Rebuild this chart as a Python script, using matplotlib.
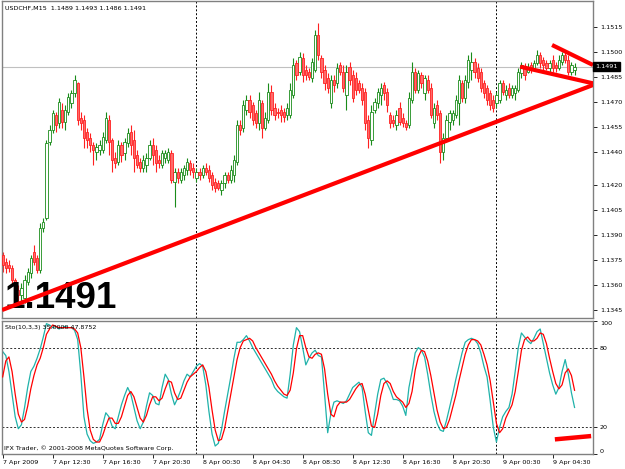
import matplotlib
matplotlib.use('Agg')
import matplotlib.pyplot as plt
import matplotlib.transforms as mtransforms
import numpy as np

symbol = 'USDCHF,M15'

# 15-minute bars, first bar 7 Apr 2009 08:30
opens = [
    1.1378, 1.1374, 1.1372, 1.1370, 1.1363, 1.1357, 1.1354, 1.1352, 1.1362, 1.1367,
    1.1380, 1.1376, 1.1369, 1.1394, 1.1400, 1.1446, 1.1453, 1.1462, 1.1457, 1.1465,
    1.1458, 1.1464, 1.1469, 1.1475, 1.1481, 1.1460, 1.1459, 1.1452, 1.1448, 1.1444,
    1.1440, 1.1441, 1.1441, 1.1447, 1.1459, 1.1447, 1.1436, 1.1434, 1.1444, 1.1439,
    1.1445, 1.1452, 1.1447, 1.1438, 1.1434, 1.1430, 1.1432, 1.1436, 1.1444, 1.1441,
    1.1435, 1.1432, 1.1436, 1.1435, 1.1439, 1.1422, 1.1428, 1.1423, 1.1426, 1.1429,
    1.1433, 1.1430, 1.1424, 1.1428, 1.1426, 1.1430, 1.1429, 1.1426, 1.1422, 1.1421,
    1.1417, 1.1421, 1.1426, 1.1423, 1.1426, 1.1434, 1.1456, 1.1454, 1.1465, 1.1471,
    1.1468, 1.1463, 1.1457, 1.1469, 1.1454, 1.1459, 1.1476, 1.1466, 1.1464, 1.1465,
    1.1464, 1.1462, 1.1462, 1.1474, 1.1493, 1.1488, 1.1496, 1.1489, 1.1488, 1.1484,
    1.1489, 1.1510, 1.1496, 1.1489, 1.1484, 1.1469, 1.1483, 1.1481, 1.1492, 1.1488,
    1.1474, 1.1491, 1.1486, 1.1484, 1.1481, 1.1478, 1.1476, 1.1459, 1.1447, 1.1465,
    1.1469, 1.1474, 1.1480, 1.1476, 1.1462, 1.1459, 1.1456, 1.1466, 1.1460, 1.1457,
    1.1456, 1.1471, 1.1488, 1.1477, 1.1486, 1.1475, 1.1483, 1.1478, 1.1457, 1.1468,
    1.1463, 1.1440, 1.1448, 1.1458, 1.1459, 1.1462, 1.1469, 1.1481, 1.1472, 1.1482,
    1.1489, 1.1494, 1.1490, 1.1488, 1.1481, 1.1478, 1.1475, 1.1471, 1.1469, 1.1471,
    1.1481, 1.1474, 1.1478, 1.1474, 1.1475, 1.1477, 1.1487, 1.1490, 1.1488, 1.1492,
    1.1490, 1.1493, 1.1498, 1.1495, 1.1493, 1.1490, 1.1495, 1.1492, 1.1490, 1.1494,
    1.1498, 1.1495, 1.1488, 1.1489]
highs = [
    1.1380, 1.1376, 1.1375, 1.1372, 1.1364, 1.1360, 1.1361, 1.1366, 1.1370, 1.1378,
    1.1384, 1.1378, 1.1397, 1.1400, 1.1447, 1.1456, 1.1465, 1.1464, 1.1472, 1.1469,
    1.1468, 1.1475, 1.1477, 1.1486, 1.1482, 1.1464, 1.1462, 1.1454, 1.1451, 1.1446,
    1.1445, 1.1447, 1.1452, 1.1464, 1.1462, 1.1448, 1.1440, 1.1447, 1.1446, 1.1448,
    1.1454, 1.1456, 1.1453, 1.1441, 1.1436, 1.1438, 1.1439, 1.1447, 1.1448, 1.1444,
    1.1438, 1.1441, 1.1441, 1.1442, 1.1441, 1.1430, 1.1430, 1.1430, 1.1432, 1.1436,
    1.1435, 1.1433, 1.1430, 1.1430, 1.1432, 1.1433, 1.1432, 1.1428, 1.1424, 1.1423,
    1.1423, 1.1428, 1.1428, 1.1432, 1.1438, 1.1459, 1.1459, 1.1471, 1.1474, 1.1474,
    1.1470, 1.1465, 1.1476, 1.1471, 1.1464, 1.1481, 1.1480, 1.1469, 1.1466, 1.1468,
    1.1466, 1.1469, 1.1481, 1.1496, 1.1495, 1.1500, 1.1499, 1.1492, 1.1490, 1.1496,
    1.1513, 1.1517, 1.1498, 1.1492, 1.1487, 1.1486, 1.1486, 1.1493, 1.1494, 1.1492,
    1.1492, 1.1494, 1.1489, 1.1488, 1.1483, 1.1481, 1.1478, 1.1462, 1.1468, 1.1472,
    1.1478, 1.1481, 1.1482, 1.1478, 1.1464, 1.1462, 1.1465, 1.1470, 1.1463, 1.1459,
    1.1476, 1.1494, 1.1490, 1.1489, 1.1488, 1.1486, 1.1486, 1.1481, 1.1469, 1.1471,
    1.1465, 1.1451, 1.1462, 1.1465, 1.1465, 1.1474, 1.1486, 1.1483, 1.1486, 1.1498,
    1.1500, 1.1496, 1.1493, 1.1490, 1.1483, 1.1480, 1.1477, 1.1474, 1.1476, 1.1483,
    1.1483, 1.1480, 1.1481, 1.1480, 1.1480, 1.1490, 1.1494, 1.1493, 1.1493, 1.1494,
    1.1495, 1.1501, 1.1500, 1.1497, 1.1495, 1.1495, 1.1498, 1.1494, 1.1498, 1.1500,
    1.1501, 1.1498, 1.1494, 1.1493]
lows = [
    1.1368, 1.1367, 1.1368, 1.1360, 1.1351, 1.1348, 1.1350, 1.1349, 1.1360, 1.1364,
    1.1372, 1.1367, 1.1367, 1.1392, 1.1399, 1.1444, 1.1451, 1.1452, 1.1454, 1.1454,
    1.1453, 1.1462, 1.1466, 1.1473, 1.1456, 1.1453, 1.1442, 1.1442, 1.1440, 1.1432,
    1.1435, 1.1438, 1.1439, 1.1445, 1.1438, 1.1428, 1.1430, 1.1432, 1.1434, 1.1435,
    1.1443, 1.1438, 1.1428, 1.1430, 1.1428, 1.1428, 1.1428, 1.1435, 1.1432, 1.1428,
    1.1430, 1.1430, 1.1433, 1.1433, 1.1421, 1.1407, 1.1421, 1.1421, 1.1423, 1.1426,
    1.1426, 1.1424, 1.1422, 1.1423, 1.1424, 1.1426, 1.1422, 1.1417, 1.1416, 1.1417,
    1.1414, 1.1418, 1.1421, 1.1421, 1.1422, 1.1432, 1.1450, 1.1452, 1.1462, 1.1460,
    1.1456, 1.1454, 1.1453, 1.1448, 1.1453, 1.1457, 1.1462, 1.1459, 1.1460, 1.1458,
    1.1458, 1.1459, 1.1460, 1.1472, 1.1483, 1.1486, 1.1482, 1.1483, 1.1483, 1.1482,
    1.1488, 1.1495, 1.1484, 1.1477, 1.1475, 1.1466, 1.1476, 1.1478, 1.1486, 1.1476,
    1.1465, 1.1480, 1.1470, 1.1474, 1.1475, 1.1468, 1.1453, 1.1442, 1.1444, 1.1463,
    1.1466, 1.1468, 1.1471, 1.1464, 1.1454, 1.1455, 1.1453, 1.1456, 1.1455, 1.1453,
    1.1454, 1.1469, 1.1475, 1.1475, 1.1478, 1.1471, 1.1475, 1.1460, 1.1454, 1.1459,
    1.1433, 1.1435, 1.1446, 1.1453, 1.1456, 1.1460, 1.1456, 1.1470, 1.1469, 1.1478,
    1.1483, 1.1484, 1.1482, 1.1476, 1.1472, 1.1468, 1.1465, 1.1464, 1.1466, 1.1469,
    1.1474, 1.1471, 1.1472, 1.1472, 1.1471, 1.1476, 1.1484, 1.1483, 1.1487, 1.1487,
    1.1489, 1.1492, 1.1490, 1.1489, 1.1489, 1.1488, 1.1488, 1.1488, 1.1489, 1.1492,
    1.1493, 1.1486, 1.1486, 1.1486]
closes = [
    1.1372, 1.1370, 1.1370, 1.1363, 1.1356, 1.1354, 1.1358, 1.1363, 1.1368, 1.1376,
    1.1374, 1.1369, 1.1394, 1.1398, 1.1445, 1.1453, 1.1463, 1.1456, 1.1470, 1.1458,
    1.1465, 1.1473, 1.1475, 1.1483, 1.1459, 1.1457, 1.1448, 1.1447, 1.1444, 1.1441,
    1.1443, 1.1444, 1.1449, 1.1460, 1.1446, 1.1435, 1.1433, 1.1444, 1.1438, 1.1446,
    1.1451, 1.1444, 1.1436, 1.1432, 1.1430, 1.1435, 1.1436, 1.1444, 1.1438, 1.1433,
    1.1433, 1.1439, 1.1439, 1.1440, 1.1423, 1.1428, 1.1424, 1.1428, 1.1430, 1.1434,
    1.1429, 1.1428, 1.1428, 1.1426, 1.1430, 1.1428, 1.1424, 1.1420, 1.1418, 1.1418,
    1.1421, 1.1426, 1.1423, 1.1429, 1.1435, 1.1456, 1.1453, 1.1468, 1.1471, 1.1464,
    1.1459, 1.1457, 1.1471, 1.1454, 1.1460, 1.1476, 1.1465, 1.1462, 1.1463, 1.1462,
    1.1461, 1.1466, 1.1477, 1.1492, 1.1486, 1.1497, 1.1486, 1.1486, 1.1485, 1.1494,
    1.1510, 1.1498, 1.1488, 1.1481, 1.1478, 1.1483, 1.1480, 1.1490, 1.1488, 1.1478,
    1.1488, 1.1483, 1.1472, 1.1477, 1.1477, 1.1471, 1.1457, 1.1448, 1.1464, 1.1470,
    1.1476, 1.1478, 1.1475, 1.1468, 1.1457, 1.1457, 1.1462, 1.1458, 1.1457, 1.1455,
    1.1472, 1.1488, 1.1477, 1.1487, 1.1481, 1.1484, 1.1477, 1.1462, 1.1466, 1.1462,
    1.1440, 1.1448, 1.1459, 1.1463, 1.1463, 1.1471, 1.1483, 1.1472, 1.1483, 1.1495,
    1.1494, 1.1488, 1.1484, 1.1478, 1.1475, 1.1471, 1.1468, 1.1466, 1.1474, 1.1481,
    1.1476, 1.1477, 1.1474, 1.1478, 1.1478, 1.1488, 1.1492, 1.1486, 1.1491, 1.1489,
    1.1493, 1.1498, 1.1493, 1.1492, 1.1490, 1.1493, 1.1490, 1.1490, 1.1495, 1.1498,
    1.1495, 1.1488, 1.1492, 1.1491]

# Stochastic(10,3,3): main (%K) and signal (%D)
k_main = [
    77, 74, 62, 45, 28, 19, 22, 35, 50, 62,
    66, 72, 79, 88, 98, 97, 95, 96, 94, 95,
    96, 95, 95, 93, 86, 60, 28, 15, 10, 8,
    9, 11, 22, 31, 28, 21, 19, 28, 37, 44,
    50, 45, 35, 25, 19, 24, 36, 46, 44, 38,
    37, 50, 60, 56, 45, 37, 42, 48, 55, 60,
    58, 62, 66, 68, 66, 52, 32, 15, 6, 8,
    18, 32, 45, 58, 72, 84, 84, 86, 89, 85,
    80, 76, 72, 68, 64, 60, 56, 50, 47, 45,
    43, 42, 60, 82, 95, 92, 80, 67, 72, 76,
    78, 74, 73, 45, 16, 30, 39, 40, 39, 38,
    40, 45, 50, 52, 54, 50, 32, 16, 14, 30,
    45, 56, 57, 53, 48, 41, 41, 40, 36, 29,
    50, 62, 76, 80, 78, 73, 60, 45, 32, 23,
    18, 17, 25, 35, 45, 56, 66, 76, 84, 86,
    87, 86, 83, 76, 66, 58, 40, 20, 9, 20,
    28, 32, 35, 45, 62, 80, 91, 88, 85, 83,
    87, 92, 94, 83, 72, 61, 52, 45, 50, 62,
    71, 60, 46, 35.0]
d_signal = [
    58, 70, 73, 62, 45, 30, 24, 26, 36, 49,
    59, 67, 72, 80, 90, 94, 97, 96, 95, 95,
    95, 95, 95, 94, 91, 80, 58, 34, 18, 11,
    9, 9, 14, 21, 27, 27, 23, 23, 28, 36,
    44, 47, 43, 35, 27, 24, 29, 37, 43, 43,
    40, 42, 49, 55, 54, 46, 41, 42, 48, 54,
    58, 60, 62, 65, 67, 62, 50, 33, 18, 10,
    11, 19, 32, 45, 58, 71, 80, 85, 86, 87,
    85, 80, 76, 72, 68, 64, 60, 55, 51, 48,
    45, 44, 48, 61, 79, 89, 89, 80, 73, 72,
    75, 76, 75, 64, 45, 30, 28, 36, 39, 39,
    39, 41, 45, 49, 52, 53, 45, 33, 21, 20,
    30, 44, 53, 55, 53, 47, 43, 41, 39, 35,
    38, 47, 63, 73, 78, 77, 70, 59, 46, 33,
    24, 19, 20, 26, 35, 44, 55, 65, 75, 82,
    86, 86, 85, 82, 75, 67, 55, 39, 23, 16,
    19, 27, 32, 37, 47, 62, 78, 86, 88, 85,
    85, 87, 91, 90, 83, 72, 62, 53, 49, 52,
    61, 64, 59, 47.8752]

price_ticks = [1.1515, 1.1500, 1.1485, 1.1470, 1.1455, 1.1440,
               1.1420, 1.1405, 1.1390, 1.1375, 1.1360, 1.1345]
stoch_ticks = [0, 20, 80, 100]
stoch_levels = [20, 80]
time_bars = [0, 16, 32, 48, 64, 80, 96, 112, 128, 144, 160, 176]
time_labels = ['7 Apr 2009', '7 Apr 12:30', '7 Apr 16:30', '7 Apr 20:30',
               '8 Apr 00:30', '8 Apr 04:30', '8 Apr 08:30', '8 Apr 12:30',
               '8 Apr 16:30', '8 Apr 20:30', '9 Apr 00:30', '9 Apr 04:30']
day_breaks = [62, 158]  # 8 Apr 00:00, 9 Apr 00:00

# hand-drawn trend lines: (bar, price) pairs
trend_lines = [((-0.2, 1.1345), (188.9, 1.1480)),
               ((165.6, 1.1491), (188.9, 1.1481)),
               ((175.8, 1.1504), (188.9, 1.1492))]
stoch_line = ((176.7, 11.0), (188.3, 13.5))

W, H = 625, 469
fs = 4.6
bull = '#1a8c1a'
bear = '#ff2020'
frame = '#808080'


def box(x0, y0, x1, y1):
    return [x0 / W, 1 - y1 / H, (x1 - x0) / W, (y1 - y0) / H]


fig = plt.figure(figsize=(6.25, 4.69), dpi=100)
ax = fig.add_axes(box(2, 1, 593, 318))
ax2 = fig.add_axes(box(2, 321, 593, 454))

o = np.array(opens)
h = np.array(highs)
l = np.array(lows)
c = np.array(closes)
x = np.arange(len(o))
up = c >= o

# main price panel
ax.axhline(c[-1], color='#c0c0c0', lw=0.8, zorder=0)
for b in day_breaks:
    ax.axvline(b, color='black', ls=(0, (2, 2)), lw=0.7, zorder=0)

ax.vlines(x[up], l[up], h[up], color=bull, lw=0.8, zorder=2)
ax.vlines(x[~up], l[~up], h[~up], color=bear, lw=0.8, zorder=2)
body_lo = np.minimum(o, c)
body_h = np.maximum(np.abs(c - o), 0.00003)
ax.bar(x[up], body_h[up], bottom=body_lo[up], width=0.75,
       facecolor='white', edgecolor=bull, linewidth=0.6, zorder=3)
ax.bar(x[~up], body_h[~up], bottom=body_lo[~up], width=0.75,
       facecolor='#ff6a6a', edgecolor=bear, linewidth=0.6, zorder=3)

ax.text(0.005, 0.031, f'{c[-1]:.4f}', transform=ax.transAxes,
        fontsize=26.5, fontweight='bold', family='Liberation Sans',
        va='baseline', ha='left', color='black', zorder=4)

for (x0, y0), (x1, y1) in trend_lines:
    ax.plot([x0, x1], [y0, y1], color='red', lw=3, solid_capstyle='butt', zorder=5)

ax.set_xlim(-0.22, 188.9)
ax.set_ylim(1.13402, 1.15304)
ax.yaxis.tick_right()
ax.set_yticks(price_ticks)
ax.set_yticklabels([f'{p:.4f}' for p in price_ticks])
ax.tick_params(axis='y', length=3, width=0.6, color='black', pad=2, labelsize=fs)
ax.tick_params(axis='x', bottom=False, labelbottom=False)

trans = mtransforms.blended_transform_factory(ax.transAxes, ax.transData)
ax.text(1.004, c[-1], f'{c[-1]:.4f}', transform=trans, ha='left', va='center',
        color='white', fontsize=fs, zorder=6, clip_on=False,
        bbox=dict(boxstyle='square,pad=0.3', fc='black', ec='black'))

# stochastic panel
for lv in stoch_levels:
    ax2.axhline(lv, color='#303030', ls=(0, (2, 2)), lw=0.7, zorder=0)
for b in day_breaks:
    ax2.axvline(b, color='black', ls=(0, (2, 2)), lw=0.7, zorder=0)
ax2.plot(x, k_main, color='#20b2aa', lw=0.9, zorder=2)
ax2.plot(x, d_signal, color='red', lw=0.9, zorder=3)
(sx0, sy0), (sx1, sy1) = stoch_line
ax2.plot([sx0, sx1], [sy0, sy1], color='red', lw=3.2, solid_capstyle='butt', zorder=4)

ax2.set_xlim(-0.22, 188.9)
ax2.set_ylim(0, 100)
ax2.yaxis.tick_right()
ax2.set_yticks(stoch_ticks)
ax2.set_yticklabels([str(t) for t in stoch_ticks])
for t, lab in zip(stoch_ticks, ax2.get_yticklabels()):
    if t == 100:
        lab.set_va('top')
    elif t == 0:
        lab.set_va('bottom')
ax2.tick_params(axis='y', length=3, width=0.6, pad=2, labelsize=fs)
ax2.set_xticks(time_bars)
ax2.set_xticklabels(time_labels, ha='left')
ax2.tick_params(axis='x', length=3, width=0.6, pad=1.5, labelsize=fs)

for a in (ax, ax2):
    for s in a.spines.values():
        s.set_color(frame)
        s.set_linewidth(1)

fig.text(5 / W, 1 - 8 / H,
         f'{symbol}  {opens[-1]:.4f} {highs[-1]:.4f} {lows[-1]:.4f} {closes[-1]:.4f}',
         fontsize=fs, va='center', ha='left')
fig.text(5 / W, 1 - 327 / H, f'Sto(10,3,3) {k_main[-1]:.4f} {d_signal[-1]:.4f}',
         fontsize=fs, va='center', ha='left')
fig.text(4 / W, 1 - 448 / H, 'IFX Trader, \u00a9 2001-2008 MetaQuotes Software Corp.',
         fontsize=fs, va='center', ha='left')

fig.savefig('out.png', dpi=100)
